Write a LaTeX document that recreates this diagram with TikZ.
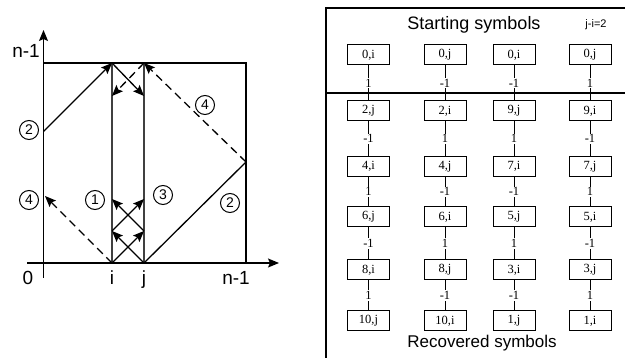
\documentclass[tikz,border=0pt]{standalone}
\usepackage{fontspec}
\setmainfont{Liberation Serif}
\setsansfont{Liberation Sans}
\usetikzlibrary{arrows.meta}
\begin{document}
\begin{tikzpicture}[x=1pt,y=-1pt,
  ln/.style={line width=1.3pt},
  arr/.style={ln,-{Stealth[length=11pt,width=9pt,inset=2pt]}},
  dsh/.style={dash pattern=on 8pt off 5pt},
  circ/.style={circle,draw,line width=1pt,minimum size=19pt,inner sep=0pt,font=\sffamily\fontsize{14}{14}\selectfont},
  axlab/.style={font=\sffamily\fontsize{19}{19}\selectfont,inner sep=0pt,anchor=base},
  sym/.style={draw,line width=1pt,minimum width=42pt,minimum height=20pt,inner sep=0pt,font=\fontsize{12.5}{12.5}\selectfont},
  wt/.style={fill=white,inner sep=1pt,font=\fontsize{12.5}{12.5}\selectfont},
  con/.style={line width=1pt},
  title/.style={font=\sffamily\fontsize{18}{18}\selectfont,inner sep=0pt}
]
\useasboundingbox (0,0) rectangle (625,358);
% ---------------- left diagram ----------------
\coordinate (ax0) at (27,263);
\coordinate (ax1) at (279,263);
\coordinate (ay0) at (43.5,278);
\coordinate (ay1) at (43.5,30);
\coordinate (tl) at (43.5,63);
\coordinate (tr) at (246,63);
\coordinate (br) at (246,263);
\coordinate (ib) at (112,263);
\coordinate (it) at (112,63);
\coordinate (jb) at (144,263);
\coordinate (jt) at (144,63);
\coordinate (i1) at (112,231);
\coordinate (j1) at (144,231);
\coordinate (i2) at (112,199);
\coordinate (j2) at (144,199);
\coordinate (it1) at (112,96);
\coordinate (jt1) at (144,96);
\coordinate (L2) at (43.5,131.5);
\coordinate (L4) at (45,196);
\coordinate (R) at (246,162);

\draw[ln] (tl) -- (tr) -- (br);
\draw[black!75,ln] (ib) -- (it);
\draw[black!75,ln] (jb) -- (jt);
\draw[arr] (ax0) -- (ax1);
\draw[arr] (ay0) -- (ay1);

\draw[arr] (L2) -- (it);
\draw[arr] (it) -- (jt1);
\draw[arr,dsh] (jt) -- (it1);
\draw[arr,dsh] (R) -- (jt);
\draw[ln] (jb) -- (R);
\draw[arr,dsh] (ib) -- (L4);
\draw[arr] (ib) -- (j1);
\draw[arr] (jb) -- (i1);
\draw[arr] (i1) -- (j2);
\draw[arr] (j1) -- (i2);

\node[circ] (c2l) at (29,130) {2};
\node[circ] (c4l) at (29,200) {4};
\node[circ] (c1) at (95,200) {1};
\node[circ] (c3) at (163,195) {3};
\node[circ] (c2r) at (230,203) {2};
\node[circ] (c4r) at (205,105) {4};

\node[axlab] (ny) at (26,58) {n-1};
\node[axlab] (n0) at (28,285) {0};
\node[axlab] (ni) at (112,285) {i};
\node[axlab] (nj) at (144,285) {j};
\node[axlab] (nx) at (236,285) {n-1};

% ---------------- right panel ----------------
\coordinate (fr0) at (625,8);
\coordinate (fr1) at (326,8);
\coordinate (fr2) at (326,358);
\coordinate (dv0) at (326,93);
\coordinate (dv1) at (625,93);
\draw[ln] (fr0) -- (fr1) -- (fr2);
\draw[ln] (dv0) -- (dv1);

\node[title] (st) at (474,25) {Starting symbols};
\node[title,font=\sffamily\fontsize{17}{17}\selectfont] (rs) at (482,343) {Recovered symbols};
\node[inner sep=0pt,font=\sffamily\fontsize{11}{11}\selectfont] (ji) at (596,25) {j-i=2};

% column 1
\node[sym] (a0) at (368.5,55) {0,i};
\node[sym] (a1) at (368.5,111) {2,j};
\node[sym] (a2) at (368.5,166.5) {4,i};
\node[sym] (a3) at (368.5,217) {6,j};
\node[sym] (a4) at (368.5,270) {8,i};
\node[sym] (a5) at (368.5,321) {10,j};
% column 2
\node[sym] (b0) at (445,55) {0,j};
\node[sym] (b1) at (445,111) {2,i};
\node[sym] (b2) at (445,166.5) {4,j};
\node[sym] (b3) at (445,217) {6,i};
\node[sym] (b4) at (445,270) {8,j};
\node[sym] (b5) at (445,321) {10,i};
% column 3
\node[sym] (c0) at (514,55) {0,i};
\node[sym] (c1b) at (514,111) {9,j};
\node[sym] (c2) at (514,166.5) {7,i};
\node[sym] (c3b) at (514,217) {5,j};
\node[sym] (c4) at (514,270) {3,i};
\node[sym] (c5) at (514,321) {1,j};
% column 4
\node[sym] (d0) at (590,55) {0,j};
\node[sym] (d1) at (590,111) {9,i};
\node[sym] (d2) at (590,166.5) {7,j};
\node[sym] (d3) at (590,217) {5,i};
\node[sym] (d4) at (590,270) {3,j};
\node[sym] (d5) at (590,321) {1,i};

\draw[con] (a0) -- node[wt]{1} (a1);
\draw[con] (a1) -- node[wt]{-1} (a2);
\draw[con] (a2) -- node[wt]{1} (a3);
\draw[con] (a3) -- node[wt]{-1} (a4);
\draw[con] (a4) -- node[wt]{1} (a5);

\draw[con] (b0) -- node[wt]{-1} (b1);
\draw[con] (b1) -- node[wt]{1} (b2);
\draw[con] (b2) -- node[wt]{-1} (b3);
\draw[con] (b3) -- node[wt]{1} (b4);
\draw[con] (b4) -- node[wt]{-1} (b5);

\draw[con] (c0) -- node[wt]{-1} (c1b);
\draw[con] (c1b) -- node[wt]{1} (c2);
\draw[con] (c2) -- node[wt]{-1} (c3b);
\draw[con] (c3b) -- node[wt]{1} (c4);
\draw[con] (c4) -- node[wt]{-1} (c5);

\draw[con] (d0) -- node[wt]{1} (d1);
\draw[con] (d1) -- node[wt]{-1} (d2);
\draw[con] (d2) -- node[wt]{1} (d3);
\draw[con] (d3) -- node[wt]{-1} (d4);
\draw[con] (d4) -- node[wt]{1} (d5);
\end{tikzpicture}
\end{document}
